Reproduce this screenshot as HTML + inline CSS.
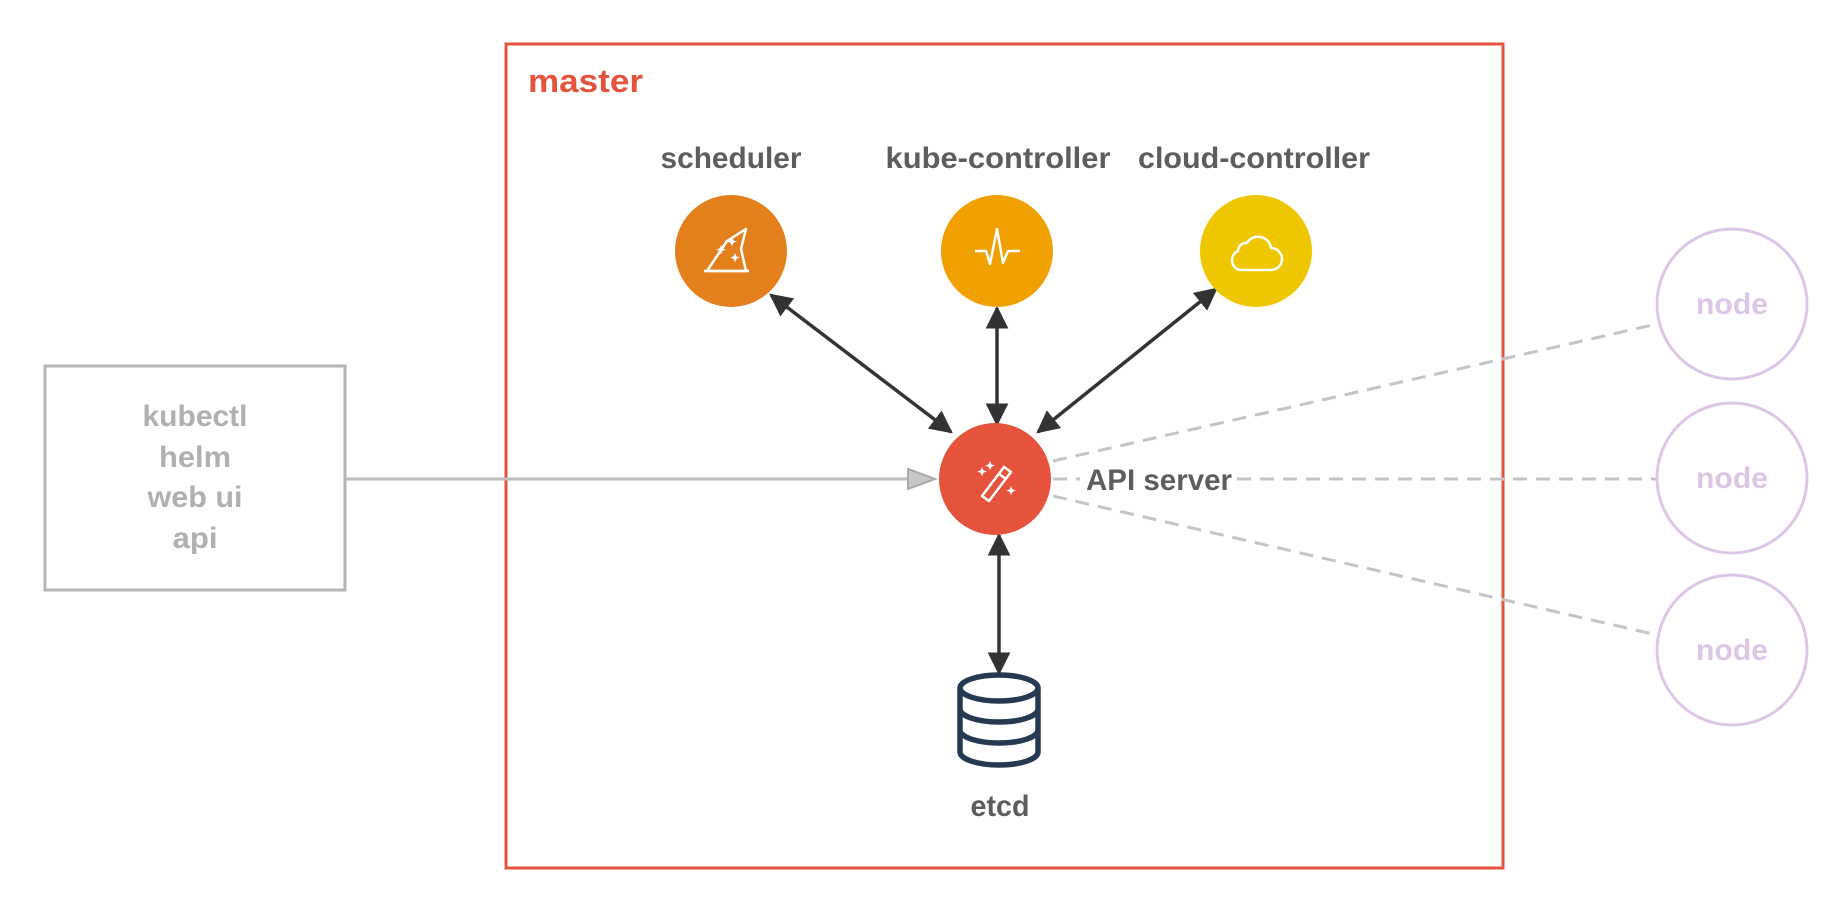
<!DOCTYPE html>
<html><head><meta charset="utf-8"><style>
html,body{margin:0;padding:0;background:#fff}
svg{display:block}
text{font-family:"Liberation Sans Narrow","Liberation Sans",sans-serif;font-weight:bold}
</style></head><body>
<svg width="1845" height="906" viewBox="0 0 1845 906" xmlns="http://www.w3.org/2000/svg">
<defs>
<marker id="ah" viewBox="0 0 10 10" refX="9" refY="5" markerWidth="6.5" markerHeight="6.5" orient="auto-start-reverse">
<path d="M0,0 L10,5 L0,10 z" fill="#333"/>
</marker>
</defs>
<rect x="506" y="44" width="997" height="824" fill="none" stroke="#e5533d" stroke-width="3"/>
<text x="528" y="92" font-size="32" fill="#e5533d" textLength="115" lengthAdjust="spacingAndGlyphs">master</text>

<!-- left box -->
<rect x="45" y="366" width="300" height="224" fill="none" stroke="#b5b5b5" stroke-width="3"/>
<g font-size="30" fill="#b0b0b0" text-anchor="middle">
<text x="195" y="426" textLength="105" lengthAdjust="spacingAndGlyphs">kubectl</text>
<text x="195" y="467" textLength="72" lengthAdjust="spacingAndGlyphs">helm</text>
<text x="195" y="507" textLength="95" lengthAdjust="spacingAndGlyphs">web ui</text>
<text x="195" y="548" textLength="45" lengthAdjust="spacingAndGlyphs">api</text>
</g>
<line x1="345" y1="479" x2="910" y2="479" stroke="#bdbdbd" stroke-width="3"/>
<path d="M908,469 L935,479 L908,489 z" fill="#c8c8c8" stroke="#aaa" stroke-width="2"/>

<!-- dashed -->
<g stroke="#c4c4c4" stroke-width="3" stroke-dasharray="14,9" fill="none">
<line x1="1053" y1="461" x2="1657" y2="324"/>
<line x1="1053" y1="479" x2="1657" y2="479"/>
<line x1="1053" y1="496" x2="1657" y2="635"/>
</g>
<rect x="1080" y="462" width="156" height="34" fill="#fff"/>

<!-- nodes -->
<g fill="none" stroke="#dcc6e6" stroke-width="3">
<circle cx="1732" cy="304" r="75"/>
<circle cx="1732" cy="478" r="75"/>
<circle cx="1732" cy="650" r="75"/>
</g>
<g font-size="30" fill="#dcc6e6" text-anchor="middle">
<text x="1732" y="314" textLength="72" lengthAdjust="spacingAndGlyphs">node</text>
<text x="1732" y="488" textLength="72" lengthAdjust="spacingAndGlyphs">node</text>
<text x="1732" y="660" textLength="72" lengthAdjust="spacingAndGlyphs">node</text>
</g>

<!-- arrows -->
<g stroke="#333" stroke-width="3.5" marker-start="url(#ah)" marker-end="url(#ah)">
<line x1="771" y1="295" x2="951" y2="432"/>
<line x1="997" y1="308" x2="997" y2="424"/>
<line x1="1216" y1="289" x2="1038" y2="432"/>
<line x1="999" y1="535" x2="999" y2="673"/>
</g>

<!-- labels -->
<g font-size="30" fill="#5d5d5d" text-anchor="middle">
<text x="731" y="168" textLength="141" lengthAdjust="spacingAndGlyphs">scheduler</text>
<text x="998" y="168" textLength="225" lengthAdjust="spacingAndGlyphs">kube-controller</text>
<text x="1254" y="168" textLength="232" lengthAdjust="spacingAndGlyphs">cloud-controller</text>
<text x="1000" y="816" textLength="59" lengthAdjust="spacingAndGlyphs">etcd</text>
</g>
<text x="1086" y="490" font-size="30" fill="#5d5d5d" textLength="146" lengthAdjust="spacingAndGlyphs">API server</text>

<!-- circles -->
<circle cx="731" cy="251" r="56" fill="#e3801c"/>
<circle cx="997" cy="251" r="56" fill="#f0a000"/>
<circle cx="1256" cy="251" r="56" fill="#eec700"/>
<circle cx="995" cy="479" r="56" fill="#e5533d"/>

<!-- icons -->
<g fill="none" stroke="#fff" stroke-width="2.5" stroke-linejoin="round">
<path d="M707,271 L727,241 L746,229 L741,249 L746,271 z"/>
<path d="M704,271 L749,271"/>
<path d="M975,251 L986,251 L990,264 L997,229 L1003,263 L1008,251 L1020,251"/>
<path d="M1240,270 a10,10 0 0 1 -2,-19 a8,8 0 0 1 9,-8 a13,13 0 0 1 24,5 a9,9 0 0 1 0,22 z"/>
<path d="M982,496 L1004,467 L1011,472 L989,501 z"/>
<path d="M999,474 L1006,479"/>
</g>
<g fill="#fff" font-size="12" text-anchor="middle" font-family="DejaVu Sans">
<text x="721" y="254">✦</text><text x="732" y="246">✦</text><text x="735" y="262">✦</text>
<text x="982" y="476">✦</text><text x="990" y="470">✦</text><text x="1011" y="495">✦</text>
</g>

<!-- etcd -->
<g fill="none" stroke="#253a52" stroke-width="5.5">
<ellipse cx="999" cy="688" rx="39" ry="13"/>
<path d="M960,688 L960,752 A39,13 0 0 0 1038,752 L1038,688"/>
<path d="M960,709 A39,13 0 0 0 1038,709"/>
<path d="M960,730 A39,13 0 0 0 1038,730"/>
</g>
</svg>
</body></html>
